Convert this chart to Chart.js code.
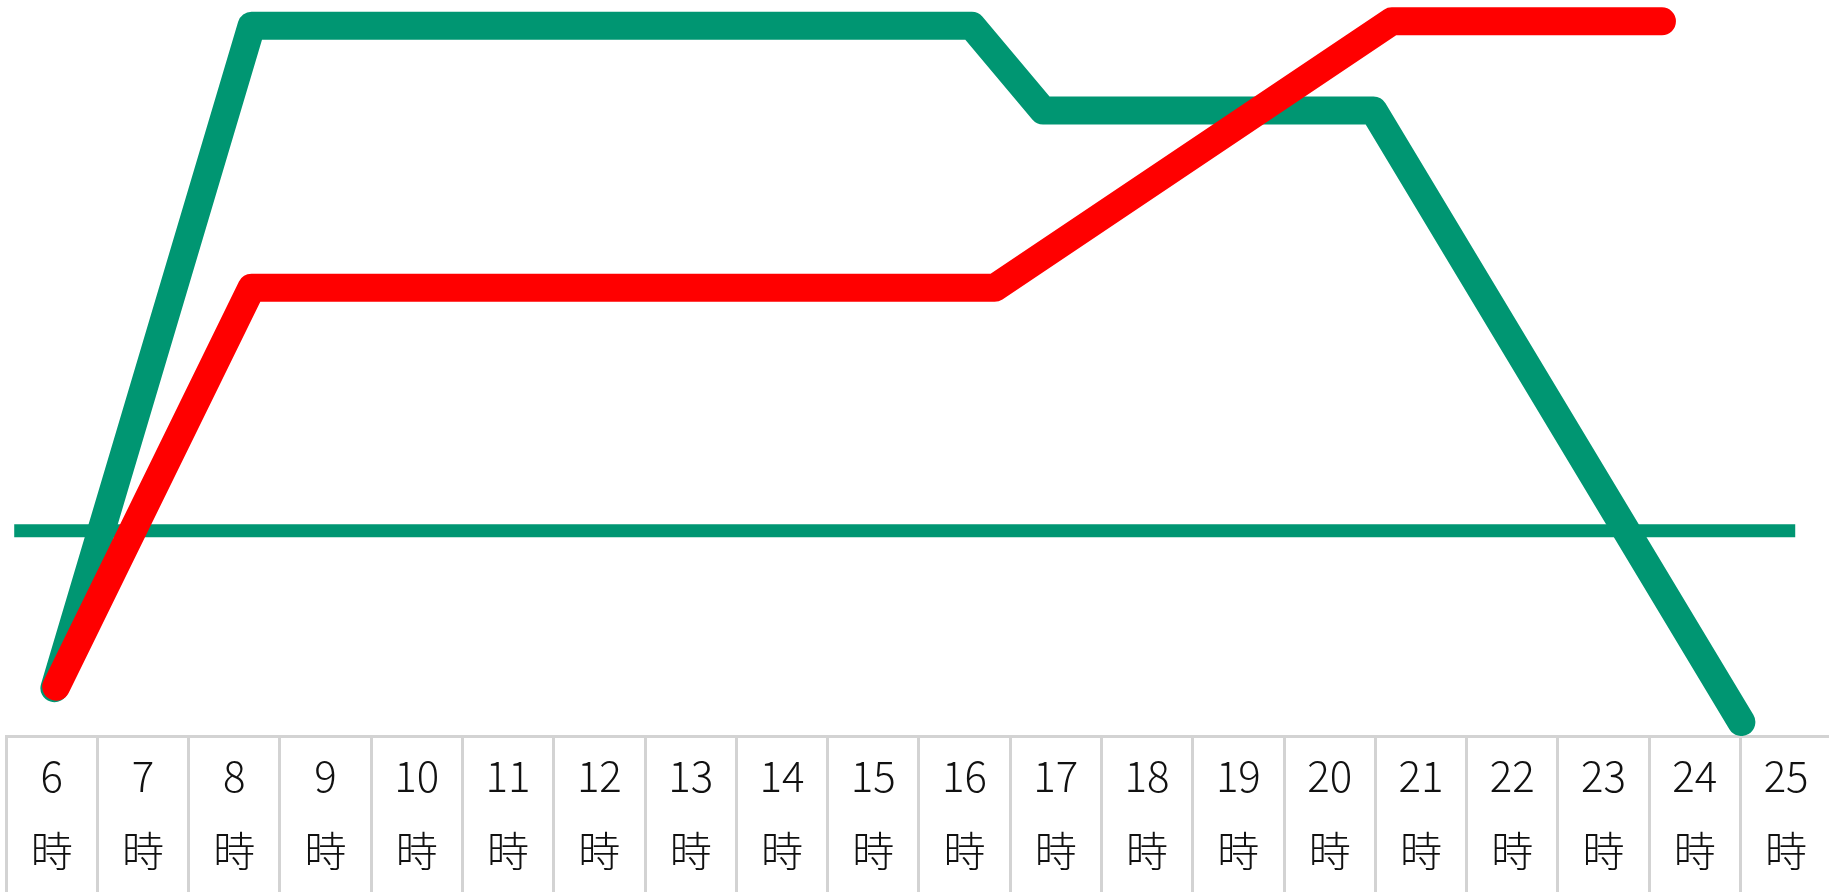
<!DOCTYPE html>
<html>
<head>
<meta charset="utf-8">
<script src="https://cdn.jsdelivr.net/npm/chart.js@4.4.1/dist/chart.umd.min.js"></script>
<style>
  html, body { margin: 0; padding: 0; background: #fff; }
  #wrap { width: 1829px; height: 892px; }
</style>
</head>
<body>
<div id="wrap"><canvas id="chart"></canvas></div>
<script>
// hour cells of the table under the chart
const hours = [6, 7, 8, 9, 10, 11, 12, 13, 14, 15, 16, 17, 18, 19, 20, 21, 22, 23, 24, 25];
const hourSuffix = "時";

// green series (time in hours, level)
const greenX = [6.53, 8.69, 16.58, 17.36, 20.98, 25.01];
const greenY = [6.5, 96.5, 96.5, 85.0, 85.0, 1.9];

// red series
const redX = [6.55, 8.69, 16.83, 21.18, 24.14];
const redY = [6.7, 60.9, 60.9, 97.1, 97.1];

// flat green reference line
const lineX = [6.09, 25.6];
const lineY = [27.9, 27.9];

const GREEN = "#009672";
const RED = "#ff0000";
const GRID = "#d3d3d3";

const toPoints = (xs, ys) => xs.map((x, i) => ({ x: x, y: ys[i] }));

// ticks on the hour draw the cell borders, ticks on the half hour carry the labels
const cellTicks = [];
hours.forEach((h) => {
  cellTicks.push({ value: h });
  cellTicks.push({ value: h + 0.5 });
});

const ctx = document.getElementById("chart").getContext("2d");
new Chart(ctx, {
  type: "line",
  data: {
    datasets: [
      {
        data: toPoints(redX, redY),
        borderColor: RED,
        borderWidth: 28,
        borderCapStyle: "round",
        borderJoinStyle: "round",
        pointRadius: 0,
        tension: 0,
      },
      {
        data: toPoints(greenX, greenY),
        borderColor: GREEN,
        borderWidth: 28,
        borderCapStyle: "round",
        borderJoinStyle: "round",
        pointRadius: 0,
        tension: 0,
      },
      {
        data: toPoints(lineX, lineY),
        borderColor: GREEN,
        borderWidth: 13,
        borderCapStyle: "butt",
        pointRadius: 0,
        tension: 0,
      },
    ],
  },
  options: {
    responsive: true,
    maintainAspectRatio: false,
    devicePixelRatio: 1,
    animation: false,
    layout: { padding: { left: 6, right: 0, top: 0, bottom: 0 } },
    plugins: {
      legend: { display: false },
      tooltip: { enabled: false },
    },
    scales: {
      x: {
        type: "linear",
        position: "bottom",
        min: 6,
        max: 25.97,
        afterBuildTicks: (axis) => {
          axis.ticks = cellTicks.map((t) => ({ value: t.value }));
        },
        afterFit: (axis) => {
          axis.height = 156;
        },
        border: { display: true, color: GRID, width: 3 },
        grid: {
          drawOnChartArea: false,
          drawTicks: true,
          tickLength: 156,
          lineWidth: 3,
          color: (c) => (c.tick && c.tick.value % 1 === 0 ? GRID : "rgba(0,0,0,0)"),
        },
        ticks: {
          autoSkip: false,
          maxRotation: 0,
          minRotation: 0,
          padding: -153.5,
          color: "#111",
          font: { family: "'Noto Sans CJK JP', 'Noto Sans', sans-serif", size: 42, weight: 300, lineHeight: 75 / 42 },
          callback: (value) => (value % 1 === 0.5 ? [String(value - 0.5), hourSuffix] : ""),
        },
      },
      y: {
        display: false,
        min: 0,
        max: 100,
      },
    },
  },
});
</script>
</body>
</html>
